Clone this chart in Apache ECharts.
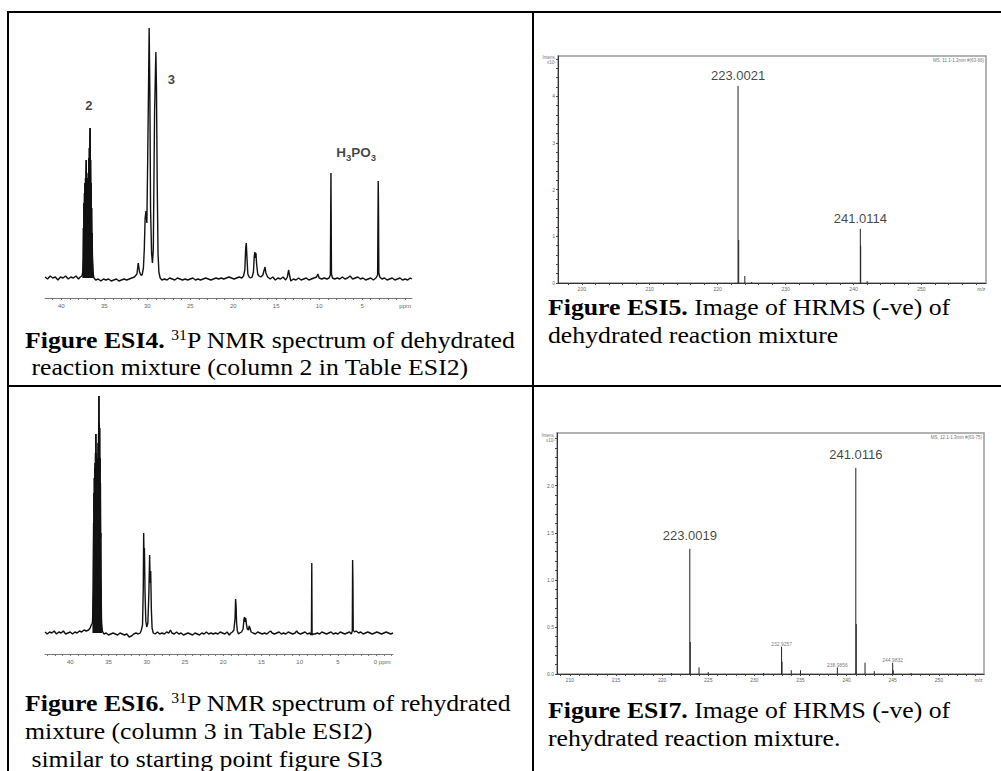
<!DOCTYPE html>
<html>
<head>
<meta charset="utf-8">
<script src="https://cdn.jsdelivr.net/npm/echarts@6/dist/echarts.min.js"></script>
<style>html,body{margin:0;padding:0;background:#fff}#c{width:1001px;height:771px}</style>
</head>
<body>
<div id="c"></div>
<script>
// ---------- DATA ----------
// Fig ESI4: 31P NMR (dehydrated) [ppm, intensity]; split around the multiplet of 2
const nmr1Left = [[41.9,1],[41.6,-1],[41.3,2],[41.0,0],[40.7,1],[40.4,-2],[40.1,1],[39.8,0],[39.5,2],[39.2,-1],[38.9,1],[38.6,0],[38.3,2],[38.0,-1],[37.8,1],[37.6,2]];
const nmr1Multiplet = [[37.55,2],[37.5,6],[37.46,20],[37.43,50],[37.4,35],[37.37,75],[37.34,55],[37.31,85],[37.28,62],[37.25,95],[37.22,70],[37.19,100],[37.16,75],[37.13,105],[37.1,118],[37.07,80],[37.04,98],[37.01,72],[36.98,95],[36.95,70],[36.92,100],[36.89,78],[36.86,105],[36.83,85],[36.8,120],[36.77,90],[36.74,130],[36.71,95],[36.68,140],[36.65,150],[36.62,100],[36.59,118],[36.56,80],[36.53,95],[36.5,60],[36.47,70],[36.44,40],[36.41,45],[36.38,22],[36.34,12],[36.3,5],[36.25,2]];
const nmr1Right = [[36.2,0],[36.0,-2],[35.7,-1],[35.4,-3],[35.1,-1],[34.8,-2],[34.5,-1],[34.2,-3],[33.9,-2],[33.6,-1],[33.3,-3],[33.0,-2],[32.7,-1],[32.4,-2],[32.1,-1],[31.8,0],[31.5,1],[31.2,4],[31.05,15],[30.9,6],[30.75,3],
[30.6,3],[30.45,10],[30.35,28],[30.25,60],[30.15,67],[30.05,55],[29.95,120],[29.85,195],[29.78,250],[29.7,185],[29.62,70],[29.5,25],[29.4,15],[29.3,28],[29.15,166],[29.0,226],[28.93,190],[28.85,100],[28.75,25],[28.65,6],[28.5,0],
[28.3,-2],[28.0,-1],[27.7,-2],[27.4,0],[27.1,-1],[26.8,-2],[26.5,0],[26.2,-1],[25.9,-2],[25.6,-1],[25.3,-2],[25.0,-1],[24.7,0],[24.4,-2],[24.1,-1],[23.8,-2],[23.5,-1],[23.2,0],[22.9,-1],[22.6,-2],[22.3,-1],[22.0,0],[21.7,-1],[21.4,0],[21.1,-1],[20.8,0],[20.5,1],[20.2,0],[19.9,-1],[19.6,0],[19.3,1],[19.0,0],
[18.8,2],[18.65,8],[18.55,30],[18.48,35],[18.4,20],[18.3,4],[18.15,1],[18.0,0],[17.8,1],[17.65,6],[17.55,22],[17.48,26],[17.42,20],[17.36,25],[17.28,14],[17.15,4],[17.0,2],[16.8,1],[16.55,3],[16.4,8],[16.3,11],[16.2,5],[16.0,1],
[15.7,-1],[15.4,1],[15.1,-2],[14.8,0],[14.5,-1],[14.2,1],[13.9,-2],[13.7,1],[13.55,8],[13.45,3],[13.3,-3],[13.0,-1],[12.7,-2],[12.4,0],[12.1,-2],[11.8,-1],[11.5,0],[11.2,-2],[10.9,-1],[10.6,0],[10.3,1],[10.15,4],[10.0,0],[9.7,-1],[9.4,0],[9.1,-1],
[8.85,0],[8.7,3],[8.63,105],[8.57,4],[8.45,0],[8.2,-1],[7.9,0],[7.6,-1],[7.3,1],[7.0,-1],[6.7,0],[6.4,2],[6.1,-1],[5.8,0],[5.5,1],[5.2,-1],[4.9,0],[4.6,-2],[4.3,-1],[4.0,0],[3.7,-2],[3.4,0],
[3.2,3],[3.13,97],[3.1,73],[3.06,5],[2.95,1],[2.7,-1],[2.4,0],[2.1,-2],[1.8,-1],[1.5,0],[1.2,-2],[0.9,-1],[0.6,0],[0.3,-2],[0.0,-1],[-0.3,-2],[-0.6,0],[-0.8,-1]];
const nmr1PeakLabels = [[36.8,173,'2'],[27.2,199,'3']];
const nmr1Species = [[5.7,126,'H3PO3']];
const nmr1TickLabels = [0,5,10,15,20,25,30,35,40];
const nmr1Ticks = [0,1,2,3,4,5,6,7,8,9,10,11,12,13,14,15,16,17,18,19,20,21,22,23,24,25,26,27,28,29,30,31,32,33,34,35,36,37,38,39,40,41];

// Fig ESI5: HRMS (-ve) dehydrated  [m/z, intensity x10^5]
const ms1 = [[223.0,4.22],[223.1,0.92],[224.0,0.15],[225.0,0.02],[241.0,1.16],[241.05,0.80],[242.0,0.04]];
const ms1Labels = [[223.0,4.22,'223.0021'],[241.0,1.16,'241.0114']];
const ms1XLabels = [200,210,220,230,240,250,258.8];
const ms1XTicks = [198,200,202,204,206,208,210,212,214,216,218,220,222,224,226,228,230,232,234,236,238,240,242,244,246,248,250,252,254,256,258];
const ms1YLabels = [0,1,2,3,4];
const ms1YTicks = [0,0.2,0.4,0.6,0.8,1,1.2,1.4,1.6,1.8,2,2.2,2.4,2.6,2.8,3,3.2,3.4,3.6,3.8,4,4.2,4.4,4.6,4.8];

// Fig ESI6: 31P NMR (rehydrated); split around the multiplet of 2
const nmr3Left = [[43.3,1],[43.0,-1],[42.7,1],[42.4,0],[42.1,2],[41.8,-1],[41.5,1],[41.2,0],[40.9,2],[40.6,-1],[40.3,0],[40.0,1],[39.7,-1],[39.4,1],[39.1,0],[38.8,2],[38.5,1],[38.2,3],[37.9,2],[37.6,3],[37.4,5],[37.25,8]];
const nmr3Multiplet = [[37.1,10],[37.05,20],[37.0,45],[36.975,80],[36.95,110],[36.925,95],[36.9,140],[36.875,120],[36.85,155],[36.825,135],[36.8,165],[36.775,145],[36.75,170],[36.725,150],[36.7,180],[36.675,160],[36.65,199],[36.625,165],[36.6,180],[36.575,155],[36.55,175],[36.525,150],[36.5,170],[36.475,148],[36.45,168],[36.425,150],[36.4,175],[36.375,155],[36.35,190],[36.325,160],[36.3,200],[36.275,175],[36.25,237],[36.225,185],[36.2,210],[36.175,170],[36.15,205],[36.125,160],[36.1,175],[36.075,130],[36.05,150],[36.025,95],[36.0,100],[35.975,55],[35.95,40],[35.925,20],[35.9,10],[35.85,4],[35.8,2]];
const nmr3Right = [[35.6,-1],[35.3,0],[35.0,-2],[34.7,-1],[34.4,0],[34.1,-1],[33.8,-2],[33.5,0],[33.2,-1],[32.9,-2],[32.6,-1],[32.3,-4],[32.0,-3],[31.7,-1],[31.4,0],[31.1,-1],[30.85,0],
[30.7,3],[30.55,8],[30.45,45],[30.4,100],[30.35,76],[30.3,85],[30.22,40],[30.12,12],[30.0,6],[29.85,10],[29.72,40],[29.62,78],[29.55,50],[29.48,62],[29.4,25],[29.3,5],[29.15,0],
[28.9,-1],[28.6,1],[28.3,-1],[28.0,0],[27.7,-1],[27.4,1],[27.1,0],[26.9,3],[26.7,0],[26.4,-1],[26.1,1],[25.8,-1],[25.5,0],[25.2,-2],[24.9,-1],[24.6,0],[24.3,-1],[24.0,-2],[23.7,0],[23.4,-1],[23.1,-2],[22.8,0],[22.5,-1],[22.2,1],[21.9,-1],[21.6,0],[21.3,-1],[21.0,0],[20.7,-1],[20.4,1],[20.1,0],[19.8,-1],[19.5,1],[19.2,-2],[19.0,0],
[18.8,1],[18.6,3],[18.45,15],[18.38,34],[18.32,28],[18.25,10],[18.15,2],[18.0,-1],[17.85,0],[17.6,1],[17.4,4],[17.28,14],[17.2,16],[17.12,11],[17.05,15],[16.95,8],[16.85,4],[16.7,3],[16.6,7],[16.5,5],[16.35,1],
[16.1,0],[15.8,-1],[15.5,1],[15.2,0],[14.9,-1],[14.6,0],[14.3,-1],[14.0,1],[13.8,2],[13.6,0],[13.3,-1],[13.0,0],[12.7,1],[12.4,-1],[12.1,0],[11.8,-1],[11.5,1],[11.2,0],[10.9,-1],[10.6,0],[10.4,2],[10.2,0],[9.9,-1],[9.6,0],[9.3,1],[9.0,-1],[8.7,0],
[8.55,-2],[8.46,2],[8.42,70],[8.38,-2],[8.25,-1],[8.0,-1],[7.7,0],[7.4,-1],[7.1,1],[6.8,0],[6.5,-1],[6.2,0],[5.9,1],[5.6,-1],[5.3,0],[5.0,-1],[4.7,1],[4.4,0],[4.1,-1],[3.8,0],[3.5,1],
[3.25,-1],[3.12,2],[3.08,73],[3.04,51],[3.0,3],[2.85,1],[2.6,2],[2.3,0],[2.0,1],[1.7,-1],[1.4,0],[1.1,1],[0.8,0],[0.5,-1],[0.2,0],[-0.1,1],[-0.4,0],[-0.7,-1],[-1.0,0],[-1.3,1],[-1.6,0],[-1.9,-1],[-2.2,0]];
const nmr3TickLabels = [0,5,10,15,20,25,30,35,40];
const nmr3Ticks = [-2,-1,0,1,2,3,4,5,6,7,8,9,10,11,12,13,14,15,16,17,18,19,20,21,22,23,24,25,26,27,28,29,30,31,32,33,34,35,36,37,38,39,40,41,42,43];

// Fig ESI7: HRMS (-ve) rehydrated
const ms2 = [[221.0,0.01],[223.0,1.33],[223.05,0.34],[224.0,0.07],[225.0,0.02],[231.0,0.01],[232.95,0.29],[233.0,0.13],[234.0,0.04],[235.0,0.04],[239.0,0.07],[241.0,2.19],[241.05,0.53],[242.0,0.12],[243.0,0.03],[245.0,0.12],[245.05,0.04],[247.0,0.01]];
const ms2Labels = [[223.0,1.33,'223.0019'],[241.0,2.19,'241.0116']];
const ms2SmallLabels = [[232.95,0.29,'232.9257'],[239.0,0.07,'238.9856'],[245.0,0.12,'244.9832']];
const ms2XLabels = [210,215,220,225,230,235,240,245,250,254.3];
const ms2XTicks = [209,210,211,212,213,214,215,216,217,218,219,220,221,222,223,224,225,226,227,228,229,230,231,232,233,234,235,236,237,238,239,240,241,242,243,244,245,246,247,248,249,250,251,252,253,254];
const ms2YLabels = [0,0.5,1.0,1.5,2.0];
const ms2YTicks = [0,0.1,0.2,0.3,0.4,0.5,0.6,0.7,0.8,0.9,1.0,1.1,1.2,1.3,1.4,1.5,1.6,1.7,1.8,1.9,2.0,2.1,2.2,2.3,2.4,2.5];

// ---------- CHART ----------
const SANS = 'Liberation Sans, Arial, sans-serif';
const SERIF = 'Liberation Serif, Times New Roman, serif';
const chart = echarts.init(document.getElementById('c'), null, {renderer: 'svg', width: 1001, height: 771});

function nmrX(idx, min, max, labels, ticks, fmt) {
  return {
    type: 'value', gridIndex: idx, min: min, max: max, inverse: true,
    axisLine: {show: true, onZero: false, lineStyle: {color: '#777', width: 1}},
    axisTick: {show: true, customValues: ticks, length: 2, lineStyle: {color: '#777'}},
    axisLabel: {show: true, customValues: labels, formatter: fmt, fontSize: 6, color: '#666', fontFamily: SANS, margin: 5,
      rich: {h: {width: 12, fontSize: 6}, z: {fontSize: 6, color: '#666', fontFamily: SANS}, p: {fontSize: 6, color: '#666', fontFamily: SANS}}},
    splitLine: {show: false}
  };
}
function msX(idx, min, max, labels, ticks, fmt) {
  return {
    type: 'value', gridIndex: idx, min: min, max: max,
    axisLine: {show: true, onZero: false, lineStyle: {color: '#333', width: 1}},
    axisTick: {show: true, customValues: ticks, length: 2, lineStyle: {color: '#444'}},
    axisLabel: {show: true, customValues: labels, formatter: fmt, fontSize: 5, color: '#666', fontFamily: SANS, margin: 3},
    splitLine: {show: false}
  };
}
function msY(idx, max, labels, ticks, fmt) {
  return {
    type: 'value', gridIndex: idx, min: 0, max: max,
    axisLine: {show: true, onZero: false, lineStyle: {color: '#333', width: 1}},
    axisTick: {show: true, customValues: ticks, length: 2, lineStyle: {color: '#444'}},
    axisLabel: {show: true, customValues: labels, formatter: fmt, fontSize: 5, color: '#666', fontFamily: SANS, margin: 3},
    splitLine: {show: false}
  };
}
function stickRender(params, api) {
  const p0 = api.coord([api.value(0), 0]);
  const p1 = api.coord([api.value(0), api.value(1)]);
  return {type: 'line', shape: {x1: p0[0], y1: p0[1], x2: p1[0], y2: p1[1]}, style: {stroke: '#222', lineWidth: 1}};
}
function labelSeries(xi, data, label) {
  return {type: 'scatter', xAxisIndex: xi, yAxisIndex: xi, data: data, symbolSize: 0, silent: true, label: label};
}
function spectrum(xi, data) {
  return {type: 'line', xAxisIndex: xi, yAxisIndex: xi, data: data, showSymbol: false, silent: true, sampling: null,
    lineStyle: {color: '#111', width: 1.4}};
}
function multiplet(xi, data) {
  return {type: 'line', xAxisIndex: xi, yAxisIndex: xi, data: data, showSymbol: false, silent: true, sampling: null,
    lineStyle: {color: '#111', width: 1}, areaStyle: {color: '#111', opacity: 1, origin: 'auto'}};
}

const CAP_FS = 23, CAP_SX = 1.12;
function caption(x, y, text, rich) {
  return {type: 'text', x: x, y: y, scaleX: CAP_SX, silent: true,
    style: {text: text, x: 0, y: 0, verticalAlign: 'middle', align: 'left', fill: '#000', fontFamily: SERIF, fontSize: CAP_FS, rich: rich}};
}
const capRich = {
  b: {fontFamily: SERIF, fontSize: CAP_FS, fontWeight: 'bold', fill: '#000', lineHeight: 28, verticalAlign: 'middle'},
  n: {fontFamily: SERIF, fontSize: CAP_FS, fill: '#000', lineHeight: 28, verticalAlign: 'middle'},
  sup: {fontFamily: SERIF, fontSize: 14, fill: '#000', lineHeight: 28, verticalAlign: 'top', padding: [2, 0, 0, 0]}
};
function line(x1, y1, x2, y2) {
  return {type: 'line', silent: true, shape: {x1: x1, y1: y1, x2: x2, y2: y2}, style: {stroke: '#000', lineWidth: 2}};
}
function tiny(x, y, text, align) {
  return {type: 'text', x: x, y: y, silent: true, style: {text: text, x: 0, y: 0, align: align, verticalAlign: 'middle', fontSize: 4.5, fontFamily: SANS, fill: '#777'}};
}

const option = {
  backgroundColor: '#fff',
  animation: false,
  grid: [
    {left: 45, top: 28, width: 367, height: 270, outerBoundsMode: 'none'},
    {left: 558, top: 56, width: 428, height: 227, show: true, borderColor: '#999', borderWidth: 1.5, backgroundColor: 'transparent', outerBoundsMode: 'none'},
    {left: 45, top: 393, width: 348, height: 261, outerBoundsMode: 'none'},
    {left: 557, top: 433, width: 427, height: 241, show: true, borderColor: '#999', borderWidth: 1.5, backgroundColor: 'transparent', outerBoundsMode: 'none'}
  ],
  xAxis: [
    nmrX(0, -0.8, 41.9, nmr1TickLabels, nmr1Ticks, v => v === 0 ? 'ppm' : String(v)),
    msX(1, 196.5, 259.5, ms1XLabels, ms1XTicks, v => v > 255 ? 'm/z' : String(v)),
    nmrX(2, -2.2, 43.3, nmr3TickLabels, nmr3Ticks, v => v === 0 ? '{h| }{z|0}{p| ppm}' : String(v)),
    msX(3, 208.6, 254.9, ms2XLabels, ms2XTicks, v => v > 252 ? 'm/z' : String(v))
  ],
  yAxis: [
    {type: 'value', gridIndex: 0, min: -20, max: 250, show: false},
    msY(1, 4.86, ms1YLabels, ms1YTicks, v => String(v)),
    {type: 'value', gridIndex: 2, min: -21, max: 240, show: false},
    msY(3, 2.56, ms2YLabels, ms2YTicks, v => v.toFixed(1))
  ],
  series: [
    spectrum(0, nmr1Left.concat(nmr1Multiplet, nmr1Right)),
    multiplet(0, nmr1Multiplet),
    labelSeries(0, nmr1PeakLabels, {show: true, position: 'inside', formatter: p => p.value[2], fontSize: 13, fontWeight: 'bold', fontFamily: SANS, color: '#111'}),
    labelSeries(0, nmr1Species, {show: true, position: 'inside',
      formatter: p => p.value[2].replace(/([A-Z]+)/g, '{a|$1}').replace(/(\d)/g, '{s|$1}'),
      rich: {a: {fontSize: 13.5, fontWeight: 'bold', fontFamily: SANS, color: '#111', lineHeight: 20, verticalAlign: 'middle'},
             s: {fontSize: 9.5, fontWeight: 'bold', fontFamily: SANS, color: '#111', lineHeight: 20, verticalAlign: 'bottom'}}}),
    {type: 'custom', xAxisIndex: 1, yAxisIndex: 1, data: ms1, renderItem: stickRender, encode: {x: 0, y: 1}, silent: true},
    labelSeries(1, ms1Labels, {show: true, position: 'top', distance: 4, formatter: p => p.value[2], fontSize: 13, fontFamily: SANS, color: '#111'}),
    spectrum(2, nmr3Left.concat(nmr3Multiplet, nmr3Right)),
    multiplet(2, nmr3Multiplet),
    {type: 'custom', xAxisIndex: 3, yAxisIndex: 3, data: ms2, renderItem: stickRender, encode: {x: 0, y: 1}, silent: true},
    labelSeries(3, ms2Labels, {show: true, position: 'top', distance: 7, formatter: p => p.value[2], fontSize: 13, fontFamily: SANS, color: '#111'}),
    labelSeries(3, ms2SmallLabels, {show: true, position: 'top', distance: 0, formatter: p => p.value[2], fontSize: 5, fontFamily: SANS, color: '#555'})
  ],
  graphic: {elements: [
    line(8, 12, 1001, 12),
    line(8, 11, 8, 771),
    line(533, 11, 533, 771),
    line(8, 386, 1001, 386),
    caption(25, 340, '{b|Figure ESI4.}{n| }{sup|31}{n|P NMR spectrum of dehydrated}', capRich),
    caption(25, 367, '{n| reaction mixture (column 2 in Table ESI2)}', capRich),
    caption(548, 307, '{b|Figure ESI5.}{n| Image of HRMS (-ve) of}', capRich),
    caption(548, 335, '{n|dehydrated reaction mixture}', capRich),
    caption(25, 703, '{b|Figure ESI6.}{n| }{sup|31}{n|P NMR spectrum of rehydrated}', capRich),
    caption(25, 731, '{n|mixture (column 3 in Table ESI2)}', capRich),
    caption(25, 759, '{n| similar to starting point figure SI3}', capRich),
    caption(548, 710, '{b|Figure ESI7.}{n| Image of HRMS (-ve) of}', capRich),
    caption(548, 738, '{n|rehydrated reaction mixture.}', capRich),
    tiny(556, 57, 'Intens.', 'right'),
    tiny(556, 62, 'x10\u2075', 'right'),
    tiny(984, 60, 'MS, 11.1-1.2min #(63-66)', 'right'),
    tiny(555, 435, 'Intens.', 'right'),
    tiny(555, 440, 'x10\u2075', 'right'),
    tiny(982, 437, 'MS, 12.1-1.3min #(63-75)', 'right')
  ]}
};
chart.setOption(option);
</script>
</body>
</html>
